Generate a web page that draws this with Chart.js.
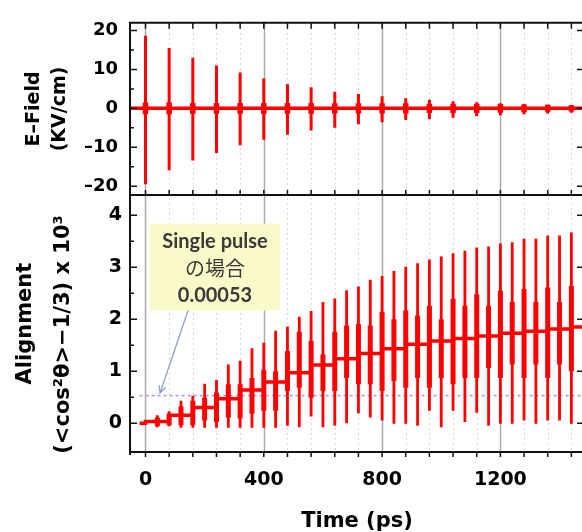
<!DOCTYPE html>
<html lang="ja">
<head>
<meta charset="UTF-8">
<title>E-Field / Alignment</title>
<script src="https://cdn.jsdelivr.net/npm/chart.js"></script>
<style>
  body { margin: 0; background: #fff; overflow: hidden; }
  #wrap { width: 590px; height: 532px; }
</style>
</head>
<body>
<div id="wrap"><canvas id="chart" width="590" height="532"></canvas></div>
<script>
// E-field pulse train (kV/cm), one pulse every 80 ps
const pulseTimes = [0, 80, 160, 240, 320, 400, 480, 560, 640, 720, 800, 880, 960, 1040, 1120, 1200, 1280, 1360, 1440];
const pulseMax = [18.7, 15.5, 13.0, 11.0, 9.2, 7.7, 6.2, 5.4, 4.3, 3.7, 3.1, 2.6, 2.2, 1.8, 1.6, 1.3, 1.1, 0.9, 0.8];
const pulseMin = [-19.5, -15.9, -13.4, -11.5, -9.5, -8.1, -6.8, -5.7, -5.0, -4.1, -3.6, -3.0, -2.8, -2.4, -2.0, -1.8, -1.5, -1.3, -1.1];
const pulseCore = [1.5, 1.5, 1.4, 1.4, 1.4, 1.4, 1.4, 1.4, 1.3, 1.3, 1.3, 1.3, 1.2, 1.2, 1.2, 1.1, 1.0, 0.9, 0.8];

// alignment x 10^3 : revivals every 40 ps
const burstTimes = [40, 80, 120, 160, 200, 240, 280, 320, 360, 400, 440, 480, 520, 560, 600, 640, 680, 720,
  760, 800, 840, 880, 920, 960, 1000, 1040, 1080, 1120, 1160, 1200, 1240, 1280, 1320, 1360, 1400, 1440];
const burstMax = [0.15, 0.23, 0.43, 0.53, 0.76, 0.83, 1.13, 1.20, 1.44, 1.55, 1.78,
  1.86, 2.05, 2.16, 2.33, 2.40, 2.56, 2.63, 2.76, 2.83, 2.93, 3.01, 3.08, 3.15,
  3.21, 3.27, 3.32, 3.38, 3.40, 3.46, 3.48, 3.55, 3.55, 3.61, 3.61, 3.67];
const burstMin = [-0.08, -0.06, -0.09, -0.09, -0.09, -0.09, -0.09, -0.09, -0.09, -0.09, -0.09,
  -0.05, -0.08, 0.13, -0.08, -0.05, 0.0, 0.19, 0.11, 0.05, -0.01, -0.01, -0.05, 0.24,
  -0.08, 0.24, 0.02, 0.2, -0.05, -0.01, -0.01, 0.05, -0.01, 0.05, 0.05, -0.01];
const coreMax = [0.11, 0.18, 0.32, 0.43, 0.49, 0.59, 0.75, 0.75, 0.87, 1.03, 1.0,
  1.39, 1.76, 1.58, 1.32, 1.76, 1.88, 1.91, 1.88, 2.14, 2.0, 2.17, 2.07, 2.26,
  2.0, 2.39, 2.26, 2.48, 2.26, 2.55, 2.33, 2.58, 2.33, 2.61, 2.33, 2.64];
const coreMin = [-0.06, -0.04, -0.04, -0.04, 0.05, 0.02, 0.11, 0.09, 0.18, 0.24, 0.24,
  0.62, 0.68, 0.49, 0.62, 0.62, 0.87, 0.75, 0.75, 0.62, 0.81, 0.68, 0.87, 0.68,
  0.87, 0.75, 0.87, 0.87, 1.06, 0.87, 1.13, 0.87, 1.13, 0.87, 1.13, 1.0];

// mean alignment level after each pulse
const levelTimes = [-20, 0, 80, 160, 240, 320, 400, 480, 560, 640, 720, 800, 880, 960, 1040, 1120, 1200, 1280, 1360, 1440];
const levels = [0, 0.03, 0.15, 0.30, 0.47, 0.64, 0.79, 0.97, 1.12, 1.24, 1.34, 1.43, 1.52, 1.58, 1.63, 1.68, 1.73, 1.77, 1.81, 1.85];

const singlePulse = 0.53;     // single pulse case, x 10^3
const singlePulseFrom = -20;
const noteLines = ['Single pulse', 'の場合', '0.00053'];

const xMin = -52.4, xMax = 1482.7;
const RED = '#ff0000';
const FONT = '"DejaVu Sans", sans-serif';

// vertical segments, one per pulse (null breaks the line)
function segs(times, lo, hi) {
  const pts = [];
  times.forEach((t, i) => {
    pts.push({x: t, y: lo[i]}, {x: t, y: hi[i]}, {x: t, y: null});
  });
  return pts;
}

const levelData = levelTimes.map((t, i) => ({x: t, y: levels[i]}));
levelData.push({x: xMax, y: levels[levels.length - 1]});

const line = {pointRadius: 0, spanGaps: false, tension: 0, fill: false, borderCapStyle: 'butt', borderColor: RED};

const framePlugin = {
  id: 'frame',
  beforeDatasetsDraw(chart) {
    const {ctx, chartArea: a} = chart;
    const x = chart.scales.x;
    ctx.save();
    for (const t of x.ticks) {
      const px = Math.round(x.getPixelForValue(t.value)) + 0.5;
      const major = t.value % 400 === 0;
      ctx.beginPath();
      ctx.lineWidth = major ? 1.5 : 1;
      ctx.strokeStyle = major ? '#aaaaaa' : '#d4d4d4';
      ctx.setLineDash(major ? [] : [2, 3]);
      ctx.moveTo(px, a.top);
      ctx.lineTo(px, a.bottom);
      ctx.stroke();
    }
    ctx.restore();
  },
  afterDatasetsDraw(chart) {
    const {ctx, chartArea: a} = chart;
    const {x, yE, yA} = chart.scales;
    const mid = yE.bottom;
    ctx.save();
    ctx.strokeStyle = '#111';
    ctx.lineWidth = 2;
    ctx.beginPath();
    ctx.moveTo(a.left, a.top); ctx.lineTo(a.right, a.top);
    ctx.moveTo(a.left, mid); ctx.lineTo(a.right, mid);
    ctx.moveTo(a.left - 1, a.bottom); ctx.lineTo(a.right, a.bottom);
    ctx.moveTo(a.left, a.top - 1); ctx.lineTo(a.left, a.bottom + 3);
    ctx.moveTo(a.right, a.top); ctx.lineTo(a.right, a.bottom);
    ctx.stroke();

    ctx.lineWidth = 1.5;
    ctx.beginPath();
    for (const t of x.ticks) {
      const px = x.getPixelForValue(t.value);
      ctx.moveTo(px, a.top); ctx.lineTo(px, a.top + 6);
      ctx.moveTo(px, mid); ctx.lineTo(px, mid - 5);
      ctx.moveTo(px, a.bottom); ctx.lineTo(px, a.bottom + 5);
    }
    for (const s of [yE, yA]) {
      const vals = s.ticks.map(t => t.value);
      vals.forEach((v, i) => {
        const py = s.getPixelForValue(v);
        ctx.moveTo(a.left, py); ctx.lineTo(a.left + 7, py);
        ctx.moveTo(a.right, py); ctx.lineTo(a.right - 7, py);
        if (i > 0) {
          const pm = s.getPixelForValue((v + vals[i - 1]) / 2);
          ctx.moveTo(a.left, pm); ctx.lineTo(a.left + 4, pm);
        }
      });
    }
    ctx.stroke();
    ctx.restore();
  }
};

// yellow call-out box with arrow to the single pulse line
const note = {x0: 15, x1: 455, y0: 2.17, y1: 3.84, fromX: 144, fromY: 2.17, toX: 49, toY: 0.58};
const notePlugin = {
  id: 'note',
  afterDatasetsDraw(chart) {
    const {ctx} = chart;
    const x = chart.scales.x, y = chart.scales.yA;
    const l = x.getPixelForValue(note.x0), r = x.getPixelForValue(note.x1);
    const t = y.getPixelForValue(note.y1), b = y.getPixelForValue(note.y0);
    ctx.save();
    ctx.fillStyle = '#fafac8';
    ctx.fillRect(l, t, r - l, b - t);
    ctx.fillStyle = '#3a3a3a';
    ctx.textAlign = 'center';
    ctx.textBaseline = 'middle';
    const cx = (l + r) / 2;
    ctx.font = 'bold 20px Lato';
    ctx.fillText(noteLines[0], cx, t + 18);
    ctx.font = '20px "Noto Sans CJK JP"';
    ctx.fillText(noteLines[1], cx, t + 45);
    ctx.font = 'bold 20px Lato';
    ctx.fillText(noteLines[2], cx, t + 72);

    const x1 = x.getPixelForValue(note.fromX), y1 = y.getPixelForValue(note.fromY);
    const x2 = x.getPixelForValue(note.toX), y2 = y.getPixelForValue(note.toY);
    const ang = Math.atan2(y2 - y1, x2 - x1);
    ctx.strokeStyle = '#8aa4c8';
    ctx.lineWidth = 1.3;
    ctx.beginPath();
    ctx.moveTo(x1, y1); ctx.lineTo(x2, y2);
    ctx.moveTo(x2 - 8 * Math.cos(ang - 0.45), y2 - 8 * Math.sin(ang - 0.45));
    ctx.lineTo(x2, y2);
    ctx.lineTo(x2 - 8 * Math.cos(ang + 0.45), y2 - 8 * Math.sin(ang + 0.45));
    ctx.stroke();
    ctx.restore();
  }
};

const tickFont = size => ({family: FONT, size: size, weight: 'bold'});

new Chart(document.getElementById('chart'), {
  type: 'line',
  data: {
    datasets: [
      Object.assign({}, line, {
        label: 'pulse core', yAxisID: 'yE', borderWidth: 5.5,
        data: segs(pulseTimes, pulseCore.map((c, i) => Math.max(-c, pulseMin[i])), pulseCore.map((c, i) => Math.min(c, pulseMax[i])))
      }),
      Object.assign({}, line, {
        label: 'pulse', yAxisID: 'yE', borderWidth: 3,
        data: segs(pulseTimes, pulseMin, pulseMax)
      }),
      Object.assign({}, line, {
        label: 'field baseline', yAxisID: 'yE', borderWidth: 3.5,
        data: [{x: xMin, y: 0}, {x: xMax, y: 0}]
      }),
      Object.assign({}, line, {
        label: 'revival core', yAxisID: 'yA', borderWidth: 5,
        data: segs(burstTimes, coreMin, coreMax)
      }),
      Object.assign({}, line, {
        label: 'revival', yAxisID: 'yA', borderWidth: 2.8,
        data: segs(burstTimes, burstMin, burstMax)
      }),
      Object.assign({}, line, {
        label: 'alignment level', yAxisID: 'yA', borderWidth: 3.5, stepped: 'before',
        data: levelData
      }),
      Object.assign({}, line, {
        label: 'single pulse', yAxisID: 'yA', borderWidth: 1.5, borderColor: '#9a9ae6',
        borderDash: [3, 3], order: 10,
        data: [{x: singlePulseFrom, y: singlePulse}, {x: xMax, y: singlePulse}]
      })
    ]
  },
  options: {
    responsive: false,
    animation: false,
    events: [],
    layout: {padding: {top: 16, right: 6, left: 0, bottom: 0}},
    plugins: {legend: {display: false}, tooltip: {enabled: false}},
    scales: {
      x: {
        type: 'linear', position: 'bottom', min: xMin, max: xMax,
        grid: {display: false, drawTicks: false},
        border: {display: false},
        ticks: {
          stepSize: 80, includeBounds: false, autoSkip: false, maxRotation: 0, padding: 17,
          color: '#000', font: tickFont(19),
          callback: v => (v % 400 === 0 ? String(v) : '')
        },
        title: {display: true, text: 'Time (ps)', color: '#000', font: tickFont(21), padding: {top: 0, bottom: -2}},
        afterFit: s => { s.height = 80; }
      },
      yA: {
        type: 'linear', position: 'left', stack: 'panels', stackWeight: 261, weight: 1,
        min: -0.555, max: 4.39,
        grid: {display: false, drawTicks: false},
        border: {display: false},
        ticks: {stepSize: 1, includeBounds: false, padding: 8, color: '#000', font: tickFont(19)},
        title: {
          display: true, text: ['Alignment', '(<cos²θ>−1/3) x 10³   '], color: '#000',
          font: {family: FONT, size: 21, weight: 'bold', lineHeight: 1.81}, padding: {top: 7, bottom: 0}
        },
        afterFit: s => { s.width = 130; }
      },
      yE: {
        type: 'linear', position: 'left', stack: 'panels', stackWeight: 175, weight: 2,
        min: -22.3, max: 22,
        grid: {display: false, drawTicks: false},
        border: {display: false},
        ticks: {
          stepSize: 10, includeBounds: false, padding: 12, color: '#000', font: tickFont(18),
          callback: v => (v < 0 ? '–' + (-v) : String(v))
        },
        title: {
          display: true, text: ['E–Field', '(KV/cm)'], color: '#000',
          font: {family: FONT, size: 19, weight: 'bold', lineHeight: 1.32}, padding: {top: 22, bottom: 0}
        },
        afterFit: s => { s.width = 130; }
      }
    }
  },
  plugins: [framePlugin, notePlugin]
});
</script>
</body>
</html>
